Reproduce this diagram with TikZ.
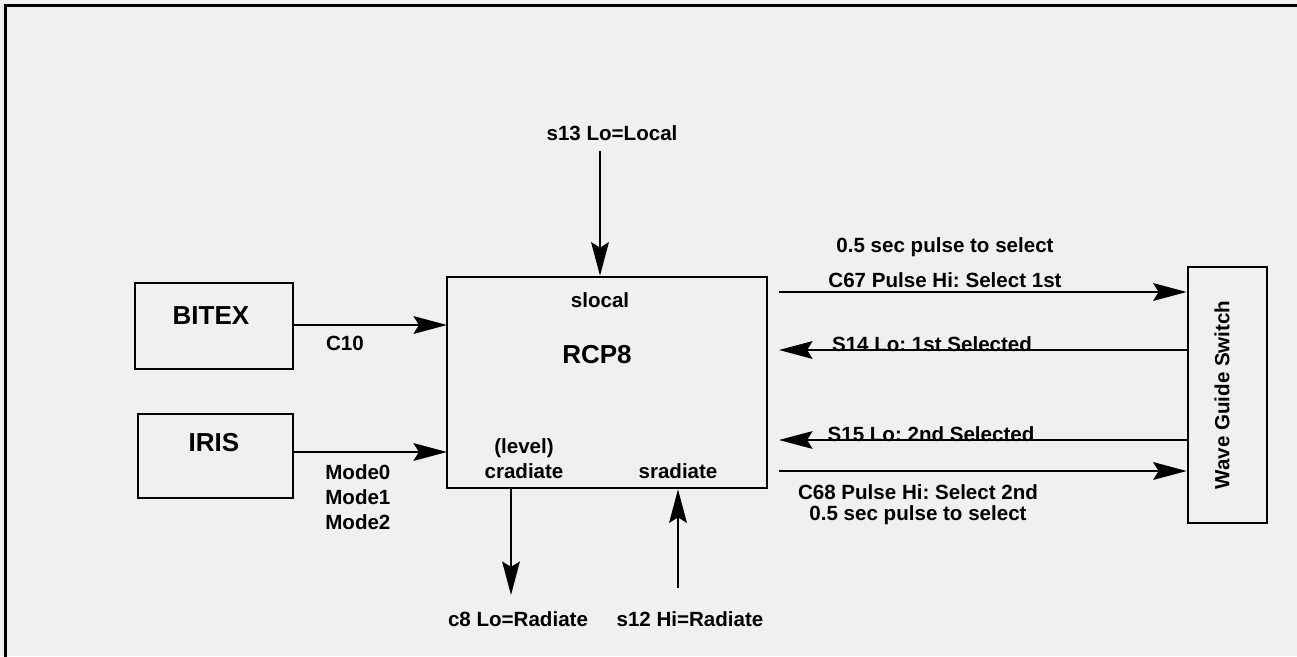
\documentclass[tikz,border=0pt]{standalone}
\usepackage{fontspec}
\setmainfont{Liberation Sans}
\usepackage{tikz}
\usepackage{xcolor}
\usetikzlibrary{arrows.meta}
\definecolor{panel}{HTML}{F0F0F0}

\begin{document}
\frenchspacing
\begin{tikzpicture}[x=0.02cm, y=-0.02cm, ->, >={Stealth[length=19pt,width=10pt,inset=3pt]}, line width=1.5pt, font=\bfseries\fontsize{11.7}{14.2}\selectfont, align=center]

    \tikzstyle{block}=[draw=black, inner sep=0pt]
    \tikzstyle{title}=[inner sep=0pt, font=\bfseries\fontsize{14.8}{17}\selectfont]
    \tikzstyle{tag}=[inner sep=0pt]

    \clip (0,0) rectangle (1297,656);
    \fill[panel] (0,0) rectangle (1297,656);
    \draw[-] (5.5,5.5) rectangle (1320,680);

    % boxes
    \node[block, minimum width=3.16cm, minimum height=1.72cm] (bitex) at (214,326) {};
    \node[block, minimum width=3.10cm, minimum height=1.68cm] (iris) at (215.5,456) {};
    \node[block, minimum width=6.40cm, minimum height=4.22cm] (rcp) at (607,382.5) {};
    \node[block, minimum width=1.58cm, minimum height=5.12cm] (wgs) at (1227.5,395) {};

    \node[title] (bitexname) at (211,316) {BITEX};
    \node[title] (irisname) at (214,443) {IRIS};
    \node[title] (rcpname) at (597,355) {RCP8};
    \node[tag, rotate=90] (wgsname) at (1222,395) {Wave Guide Switch};

    \node[tag] (slocal) at (600,300) {slocal};
    \node[tag] (cradiate) at (524,459) {(level)\\cradiate};
    \node[tag] (sradiate) at (678,471) {sradiate};

    % inputs on the left
    \coordinate (c10in) at (447,325);
    \coordinate (modein) at (447,452);
    \draw (c10in -| bitex.east) -- (c10in);
    \draw (modein -| iris.east) -- (modein);
    \node[tag] (c10) at (345,343) {C10};
    \node[tag, align=left, anchor=west] (modes) at (324,497) {Mode0\\Mode1\\Mode2};

    % top and bottom
    \coordinate (s13) at (600,151);
    \coordinate (c8) at (511,595);
    \coordinate (s12) at (678,588);
    \draw (s13) -- (s13 |- rcp.north);
    \draw (c8 |- rcp.south) -- (c8);
    \draw (s12) -- (s12 |- rcp.south);
    \node[tag] (s13text) at (612,133) {s13 Lo=Local};
    \node[tag] (c8text) at (518,619) {c8 Lo=Radiate};
    \node[tag] (s12text) at (690,619) {s12 Hi=Radiate};

    % wave guide switch lines
    \coordinate (c67) at (779,292);
    \coordinate (s14) at (779,350);
    \coordinate (s15) at (779,440);
    \coordinate (c68) at (779,471);
    \draw (c67) -- (c67 -| wgs.west);
    \draw (s14 -| wgs.west) -- (s14);
    \draw (s15 -| wgs.west) -- (s15);
    \draw (c68) -- (c68 -| wgs.west);

    \node[tag] (pulse1) at (945,247) {0.5 sec pulse to select};
    \node[tag, anchor=base] (c67text) at (945,287) {C67 Pulse Hi: Select 1st};
    \node[tag, anchor=base] (s14text) at (932,351) {S14 Lo: 1st Selected};
    \node[tag, anchor=base] (s15text) at (931,441) {S15 Lo: 2nd Selected};
    \node[tag] (c68text) at (918,492) {C68 Pulse Hi: Select 2nd};
    \node[tag] (pulse2) at (918,515) {0.5 sec pulse to select};

\end{tikzpicture}
\end{document}
